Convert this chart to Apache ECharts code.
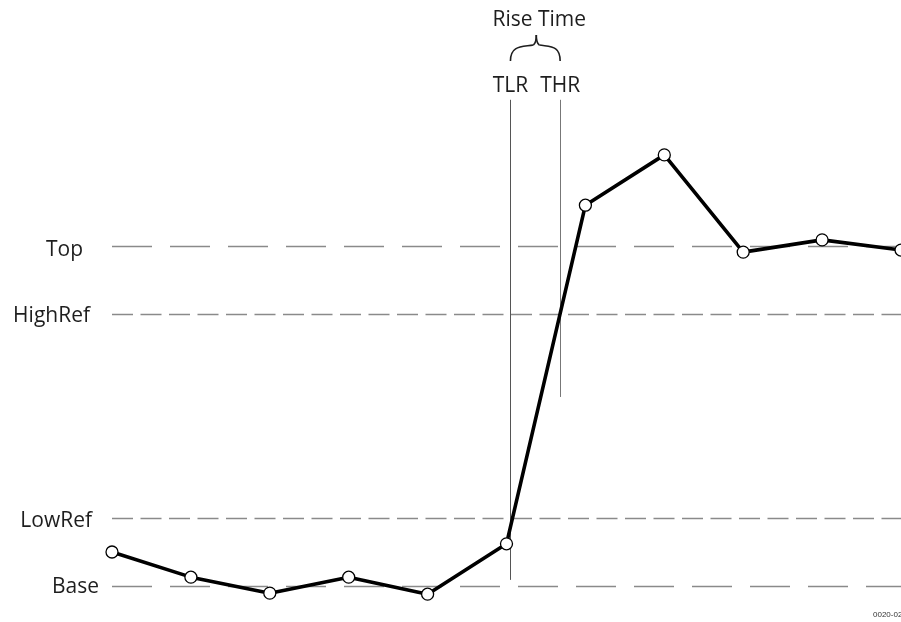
<!DOCTYPE html>
<html>
<head>
<meta charset="utf-8">
<script src="https://cdn.jsdelivr.net/npm/echarts@6/dist/echarts.min.js"></script>
<style>
  html, body { margin: 0; padding: 0; background: #fff; }
  #main { width: 901px; height: 622px; }
</style>
</head>
<body>
<div id="main"></div>
<script>
// waveform samples (x = sample index, y = % of Base..Top)
const samples = [0, 1, 2, 3, 4, 5, 6, 7, 8, 9, 10];
const levels = [10, 2.6, -2.1, 2.6, -2.4, 12.4, 112, 126.8, 98.2, 101.8, 98.8];

// reference levels
const refNames = ['Top', 'HighRef', 'LowRef', 'Base'];
const refValues = [100, 80, 20, 0];
const refLong = [true, false, false, true];
const refGap = [29, 22, 20, 13];
const refDrop = [4, 2, 3, 1];

// crossing times and the vertical marker extents
const crossNames = ['TLR', 'THR'];
const crossTimes = [5.05, 5.68];
const crossBottom = [1.8, 55.6];
const crossTop = 143;

const FONT = '"Open Sans", "Noto Sans", sans-serif';
const INK = '#1e1e1e';

let chart = echarts.init(document.getElementById('main'));

let refLines = refNames.map((name, i) => {
    return [
        {
            name: name,
            coord: [0, refValues[i]],
            lineStyle: {
                color: '#8a8a8a',
                width: 1.4,
                type: refLong[i] ? [40, 18] : [21, 7.5]
            },
            label: {distance: refGap[i], offset: [0, refDrop[i]]}
        },
        {coord: [10, refValues[i]]}
    ];
});

let crossLines = crossNames.map((name, i) => {
    return [
        {
            name: name,
            coord: [crossTimes[i], crossBottom[i]],
            lineStyle: {color: i === 0 ? '#555' : '#777', width: 1, type: 'solid'}
        },
        {coord: [crossTimes[i], crossTop]}
    ];
});

let option = {
    animation: false,
    grid: {left: 112, right: -1, top: 8, bottom: 2, containLabel: false},
    xAxis: {type: 'value', min: 0, max: 10, show: false},
    yAxis: {type: 'value', min: -10, max: 170, show: false},
    series: [
        {
            name: 'refs',
            type: 'line',
            data: [],
            silent: true,
            markLine: {
                silent: true,
                symbol: 'none',
                data: refLines,
                label: {
                    show: true,
                    position: 'start',
                    formatter: (p) => p.name,
                    color: INK,
                    fontFamily: FONT,
                    fontSize: 21
                }
            }
        },
        {
            name: 'cross',
            type: 'line',
            data: [],
            silent: true,
            markLine: {
                silent: true,
                symbol: 'none',
                data: crossLines,
                label: {
                    show: true,
                    position: 'end',
                    distance: 3,
                    formatter: (p) => p.name,
                    color: INK,
                    fontFamily: FONT,
                    fontSize: 21
                }
            }
        },
        {
            name: 'signal',
            type: 'line',
            z: 5,
            data: samples.map((t, i) => [t, levels[i]]),
            symbol: 'circle',
            symbolSize: 12,
            showAllSymbol: true,
            lineStyle: {color: '#000', width: 3.6},
            itemStyle: {color: '#fff', borderColor: '#000', borderWidth: 1.3}
        }
    ]
};

chart.setOption(option);

// brace + title above the two crossing markers
let p1 = chart.convertToPixel({gridIndex: 0}, [crossTimes[0], crossTop]);
let p2 = chart.convertToPixel({gridIndex: 0}, [crossTimes[1], crossTop]);
let x1 = p1[0], x2 = p2[0], mx = (x1 + x2) / 2 + 1;
let by = 61, ty = 35, my = 49;
let braceStyle = {fill: null, stroke: INK, lineWidth: 1.6};

chart.setOption({
    graphic: [
        {
            type: 'bezierCurve',
            shape: {x1: x1, y1: by, cpx1: x1, cpy1: my - 4, cpx2: mx - 14, cpy2: my - 2, x2: mx - 3, y2: my - 4},
            style: braceStyle
        },
        {
            type: 'bezierCurve',
            shape: {x1: mx - 3, y1: my - 4, cpx1: mx, cpy1: my - 6, cpx2: mx, cpy2: ty + 3, x2: mx, y2: ty},
            style: braceStyle
        },
        {
            type: 'bezierCurve',
            shape: {x1: x2, y1: by, cpx1: x2, cpy1: my - 4, cpx2: mx + 14, cpy2: my - 2, x2: mx + 3, y2: my - 4},
            style: braceStyle
        },
        {
            type: 'bezierCurve',
            shape: {x1: mx + 3, y1: my - 4, cpx1: mx, cpy1: my - 6, cpx2: mx, cpy2: ty + 3, x2: mx, y2: ty},
            style: braceStyle
        },
        {
            type: 'text',
            x: (x1 + x2) / 2 + 4,
            y: 10,
            style: {
                text: 'Rise Time',
                fill: INK,
                font: '21px ' + FONT,
                textAlign: 'center',
                textVerticalAlign: 'top'
            }
        },
        {
            type: 'text',
            x: 873,
            y: 611,
            style: {
                text: '0020-023',
                fill: '#333',
                font: '8px "Liberation Sans Narrow", "Liberation Sans", sans-serif',
                textVerticalAlign: 'top'
            }
        }
    ]
});
</script>
</body>
</html>
